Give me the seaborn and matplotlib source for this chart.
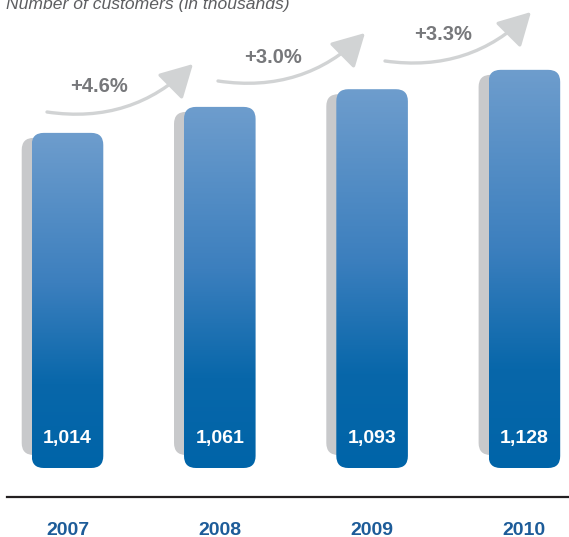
import numpy as np
import matplotlib
matplotlib.use("Agg")
import matplotlib.pyplot as plt
import seaborn as sns
import pandas as pd
from matplotlib.patches import FancyBboxPatch, FancyArrowPatch
from matplotlib.colors import LinearSegmentedColormap

# ---------------- data ----------------
years = ["2007", "2008", "2009", "2010"]
customers = [1014, 1061, 1093, 1128]
value_labels = ["1,014", "1,061", "1,093", "1,128"]
growth_labels = ["+4.6%", "+3.0%", "+3.3%"]
title = "Number of customers (in thousands)"

# ---------------- layout ----------------
W, H, DPI = 569, 537, 100
BASE = 408               # value at which bars start (truncated axis)
PX_X = 152.3             # pixels per category
PX_Y = 0.553             # pixels per customer unit
YLIM = (BASE - 29 / PX_Y, BASE + 468 / PX_Y)
XLIM = (-60.5 / PX_X, 501.5 / PX_X)
RADIUS_PX = 12

# arrows (start, tip) in pixels from top-left, label centres
arrow_px = [((47, 112), (193, 64)), ((218, 81), (365, 33)), ((385, 61), (531, 12))]
growth_px = [(99, 87), (273, 57), (443, 34)]

sns.set_theme(style="white")
plt.rcParams['font.family'] = ['Liberation Sans', 'DejaVu Sans']

fig = plt.figure(figsize=(W / DPI, H / DPI), dpi=DPI)
ax = fig.add_axes([7 / W, (H - 497) / H, (W - 7) / W, 497 / H])

df = pd.DataFrame({"year": years, "customers": customers})
sns.barplot(data=df, x="year", y="customers", ax=ax, width=0.47, color="#0066a9")

cmap = LinearSegmentedColormap.from_list(
    "bar", [(0.0, "#0064a8"), (0.25, "#0867aa"), (0.55, "#3c7fbe"), (1.0, "#6e9dcd")])
grad = np.linspace(0, 1, 256).reshape(-1, 1)

asp = PX_X / PX_Y
r = RADIUS_PX / PX_X
for i, p in enumerate(list(ax.patches)):
    x0, w = p.get_x(), p.get_width()
    top = customers[i]
    p.set_visible(False)
    # grey side/shadow
    sh = FancyBboxPatch((x0 - 10 / PX_X, BASE + 13 / PX_Y), w, top - BASE - 18 / PX_Y,
                        boxstyle=f"round,pad=0,rounding_size={r}", mutation_aspect=asp,
                        fc="#c8c9cb", ec="none", zorder=2)
    ax.add_patch(sh)
    front = FancyBboxPatch((x0, BASE), w, top - BASE,
                           boxstyle=f"round,pad=0,rounding_size={r}", mutation_aspect=asp,
                           fc="none", ec="none", zorder=3)
    ax.add_patch(front)
    im = ax.imshow(grad, extent=(x0, x0 + w, BASE, top), origin="lower", cmap=cmap,
                   aspect="auto", zorder=3, interpolation="bilinear")
    im.set_clip_path(front)
    ax.annotate(value_labels[i], xy=(x0 + w / 2, BASE), xytext=(0, 30 * 72 / DPI),
                textcoords="offset points", ha="center", va="center", color="white",
                fontweight="bold", fontsize=14, zorder=5)

ax.set_xlim(*XLIM)
ax.set_ylim(*YLIM)
ax.set_xlabel("")
ax.set_ylabel("")
ax.set_yticks([])
ax.tick_params(axis="x", length=0, pad=18, labelsize=14, labelcolor="#1d5c99")
for lbl in ax.get_xticklabels():
    lbl.set_fontweight("bold")
for s in ["left", "top", "right"]:
    ax.spines[s].set_visible(False)
ax.spines["bottom"].set_color("#231f20")
ax.spines["bottom"].set_linewidth(1.6)
ax.set_facecolor("white")


def fpx(x, y):
    return (x / W, 1 - y / H)


for (a, b), lab, (tx, ty) in zip(arrow_px, growth_labels, growth_px):
    arr = FancyArrowPatch(fpx(*a), fpx(*b), transform=fig.transFigure,
                          connectionstyle="arc3,rad=0.25",
                          arrowstyle="-|>,head_length=1.0,head_width=0.55",
                          mutation_scale=20, lw=2.4, color="#d1d3d4",
                          shrinkA=0, shrinkB=0)
    fig.add_artist(arr)
    fig.text(*fpx(tx, ty), lab, ha="center", va="center", color="#77787b",
             fontweight="bold", fontsize=14.5)

fig.text(*fpx(6, 9), title, ha="left", va="baseline", style="italic",
         color="#5d5e61", fontsize=12.6)

fig.savefig("out.png", dpi=DPI)
